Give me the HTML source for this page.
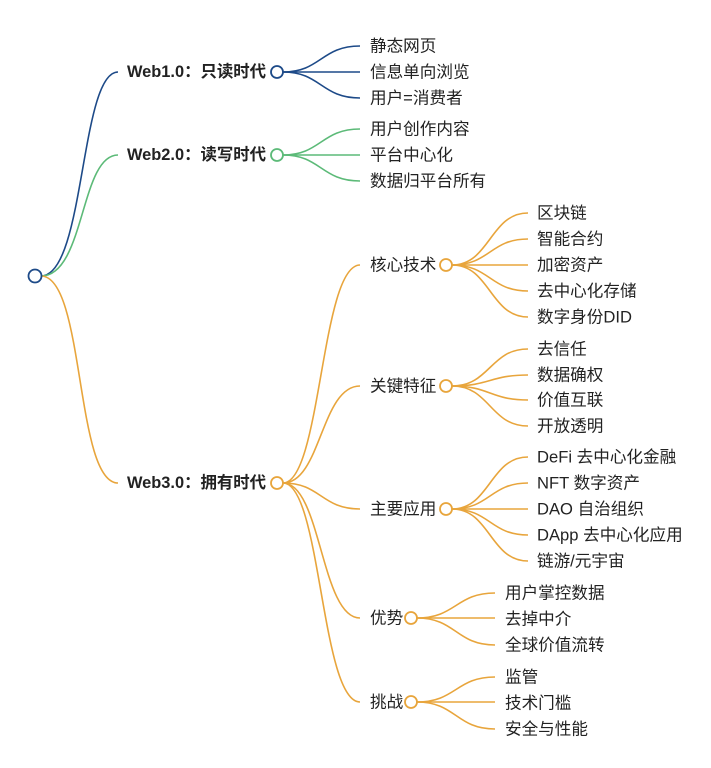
<!DOCTYPE html>
<html><head><meta charset="utf-8"><style>
html,body{margin:0;padding:0;background:#fff;}
svg{display:block;}
text{font-family:"Liberation Sans","Noto Sans CJK SC",sans-serif;font-size:16.6px;fill:#222;dominant-baseline:central;}
.b{font-weight:bold;font-size:16.4px;}
</style></head><body>
<svg width="711" height="768" viewBox="0 0 711 768" xmlns="http://www.w3.org/2000/svg">
<g fill="none" stroke-width="1.6">
<path d="M41 276 C85 276 80 72 118 72" stroke="#1d4a88"/>
<path d="M41 276 C85 276 80 155 118 155" stroke="#5cba78"/>
<path d="M41 276 C85 276 75 483 118 483" stroke="#e8a53c"/>
<g stroke="#1d4a88">
<path d="M283 72 C321 72 321 46 360 46"/><path d="M283 72 L360 72"/><path d="M283 72 C321 72 321 98 360 98"/>
</g>
<g stroke="#5cba78">
<path d="M283 155 C321 155 321 129 360 129"/><path d="M283 155 L360 155"/><path d="M283 155 C321 155 321 181 360 181"/>
</g>
<g stroke="#e8a53c">
<path d="M283 483 C321 483 321 265 360 265"/>
<path d="M283 483 C321 483 321 386 360 386"/>
<path d="M283 483 C321 483 321 509 360 509"/>
<path d="M283 483 C321 483 321 618 360 618"/>
<path d="M283 483 C321 483 321 702 360 702"/>
<path d="M452 265 C490 265 490 213 528 213"/><path d="M452 265 C490 265 490 239 528 239"/><path d="M452 265 L528 265"/><path d="M452 265 C490 265 490 291 528 291"/><path d="M452 265 C490 265 490 317 528 317"/>
<path d="M452 386 C490 386 490 349 528 349"/><path d="M452 386 C490 386 490 375 528 375"/><path d="M452 386 C490 386 490 400 528 400"/><path d="M452 386 C490 386 490 426 528 426"/>
<path d="M452 509 C490 509 490 457 528 457"/><path d="M452 509 C490 509 490 483 528 483"/><path d="M452 509 L528 509"/><path d="M452 509 C490 509 490 535 528 535"/><path d="M452 509 C490 509 490 561 528 561"/>
<path d="M417 618 C456 618 456 593 495 593"/><path d="M417 618 L495 618"/><path d="M417 618 C456 618 456 645 495 645"/>
<path d="M417 702 C456 702 456 677 495 677"/><path d="M417 702 L495 702"/><path d="M417 702 C456 702 456 729 495 729"/>
</g>
</g>
<g fill="#fff" stroke-width="1.8">
<circle cx="35" cy="276" r="6.5" stroke="#1d4a88"/>
<circle cx="277" cy="72" r="6" stroke="#1d4a88"/>
<circle cx="277" cy="155" r="6" stroke="#5cba78"/>
<circle cx="277" cy="483" r="6" stroke="#e8a53c"/>
<circle cx="446" cy="265" r="6" stroke="#e8a53c"/>
<circle cx="446" cy="386" r="6" stroke="#e8a53c"/>
<circle cx="446" cy="509" r="6" stroke="#e8a53c"/>
<circle cx="411" cy="618" r="6" stroke="#e8a53c"/>
<circle cx="411" cy="702" r="6" stroke="#e8a53c"/>
</g>
<text class="b" x="127" y="72">Web1.0：只读时代</text>
<text class="b" x="127" y="155">Web2.0：读写时代</text>
<text class="b" x="127" y="483">Web3.0：拥有时代</text>
<text x="370" y="46">静态网页</text><text x="370" y="72">信息单向浏览</text><text x="370" y="98">用户=消费者</text>
<text x="370" y="129">用户创作内容</text><text x="370" y="155">平台中心化</text><text x="370" y="181">数据归平台所有</text>
<text x="370" y="265">核心技术</text><text x="370" y="386">关键特征</text><text x="370" y="509">主要应用</text><text x="370" y="618">优势</text><text x="370" y="702">挑战</text>
<text x="537" y="213">区块链</text><text x="537" y="239">智能合约</text><text x="537" y="265">加密资产</text><text x="537" y="291">去中心化存储</text><text x="537" y="317">数字身份DID</text>
<text x="537" y="349">去信任</text><text x="537" y="375">数据确权</text><text x="537" y="400">价值互联</text><text x="537" y="426">开放透明</text>
<text x="537" y="457">DeFi 去中心化金融</text><text x="537" y="483">NFT 数字资产</text><text x="537" y="509">DAO 自治组织</text><text x="537" y="535">DApp 去中心化应用</text><text x="537" y="561">链游/元宇宙</text>
<text x="505" y="593">用户掌控数据</text><text x="505" y="619">去掉中介</text><text x="505" y="645">全球价值流转</text>
<text x="505" y="677">监管</text><text x="505" y="703">技术门槛</text><text x="505" y="729">安全与性能</text>
</svg>
</body></html>
